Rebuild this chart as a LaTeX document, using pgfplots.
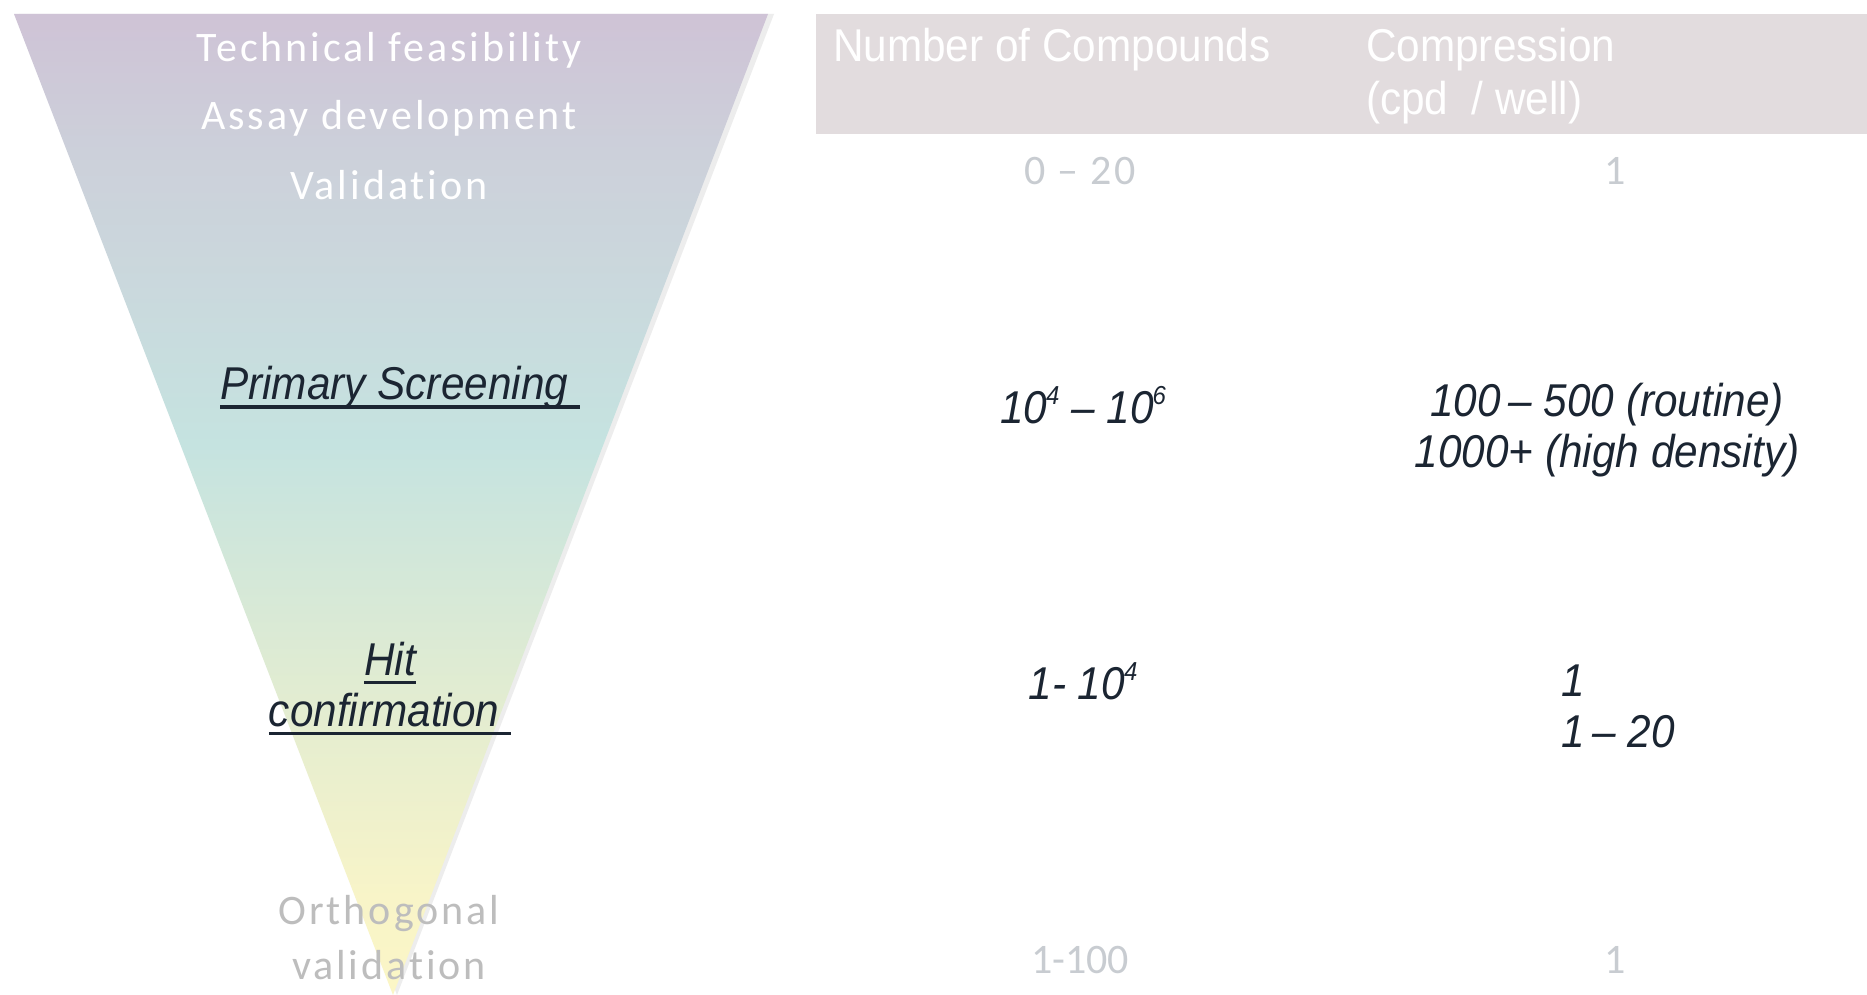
\documentclass[border=0pt]{standalone}
\usepackage{pgfplots}
\pgfplotsset{compat=1.18}
\usepackage{fontspec}
\setmainfont{Liberation Sans}
\newfontfamily\funnelfont[LetterSpace=7, Ligatures={NoCommon, TeX}]{Carlito}
\newfontfamily\plainfont[Ligatures={NoCommon, TeX}]{Carlito}
\newfontfamily\arialfont[Ligatures=TeX]{Liberation Sans}
\newfontfamily\narrowfont[Ligatures=TeX, FakeStretch=0.92]{Liberation Sans}

\definecolor{headbg}{HTML}{E2DCDE}
\definecolor{darktxt}{HTML}{1B2532}
\definecolor{lighttxt}{HTML}{C8CCD1}
\definecolor{greytxt}{HTML}{BDBDBD}
\definecolor{shadowc}{HTML}{EDEDED}

\definecolor{fa}{HTML}{FBF6C6}
\definecolor{fb}{HTML}{F8F4C8}
\definecolor{fc}{HTML}{DEEBD3}
\definecolor{fd}{HTML}{C5E3E0}
\definecolor{fe}{HTML}{CBD6DC}
\definecolor{ff}{HTML}{CCD0DA}
\definecolor{fg}{HTML}{CFC3D6}

% vertical shading of the funnel, 25bp = apex, 75bp = top
\pgfdeclareverticalshading{funnel}{100bp}{%
  color(0bp)=(fa);
  color(25bp)=(fa);
  color(30bp)=(fb);
  color(42bp)=(fc);
  color(53bp)=(fd);
  color(63bp)=(fe);
  color(68bp)=(ff);
  color(75bp)=(fg);
  color(100bp)=(fg)}

% underline including a trailing space
\newcommand\ul[1]{\setbox0\hbox{#1}\leavevmode\rlap{\rule[-4.5pt]{\wd0}{1.7pt}}\box0}
% small, tight superscript as in the slide
\newcommand\smallsup[1]{\kern-0.5pt\raisebox{0.42em}{\fontsize{13}{13}\selectfont #1}}

\begin{document}
\begin{tikzpicture}
\begin{axis}[
  x=0.5pt, y=0.5pt,
  xmin=0, xmax=1867, ymin=0, ymax=995,
  hide axis, clip=false]

% page background
\addplot[fill=white, draw=none] coordinates {(0,0) (1867,0) (1867,995) (0,995)} -- cycle;

% funnel shadow and funnel
\addplot[fill=shadowc, draw=none] coordinates {(19,981) (774,981) (397,0)} -- cycle;
\addplot[shade, shading=funnel, draw=none] coordinates {(14,981) (768,981) (393,0)} -- cycle;

% header band
\addplot[fill=headbg, draw=none] coordinates {(816,981) (1867,981) (1867,861) (816,861)} -- cycle;

% funnel labels
\node[text=white, font=\funnelfont\fontsize{21}{24}\selectfont] at (389,945) {Technical feasibility};
\node[text=white, font=\funnelfont\fontsize{21}{24}\selectfont] at (389,877) {Assay development};
\node[text=white, font=\funnelfont\fontsize{21}{24}\selectfont] at (389,810) {Validation};

\node[text=darktxt, font=\narrowfont\itshape\fontsize{23}{26}\selectfont] at (400,607) {\ul{Primary Screening\ }};
\node[text=darktxt, font=\narrowfont\itshape\fontsize{23}{26}\selectfont] at (390,332) {\ul{Hit}};
\node[text=darktxt, font=\narrowfont\itshape\fontsize{23}{26}\selectfont] at (390,281) {\ul{confirmation\ }};

\node[text=greytxt, font=\funnelfont\fontsize{21}{24}\selectfont] at (389,81) {Orthogonal};
\node[text=greytxt, font=\funnelfont\fontsize{21}{24}\selectfont] at (389,30) {validation};

% header text
\node[anchor=west, text=white, font=\narrowfont\fontsize{23}{26}\selectfont] at (826,945) {Number of Compounds};
\node[anchor=west, text=white, font=\narrowfont\fontsize{23}{26}\selectfont] at (1359,945) {Compression};
\node[anchor=west, text=white, font=\narrowfont\fontsize{23}{26}\selectfont] at (1359,892) {(cpd\ \ / well)};

% row 1
\node[text=lighttxt, font=\plainfont\addfontfeature{LetterSpace=6}\fontsize{21}{24}\selectfont] at (1080,824) {0 – 20};
\node[text=lighttxt, font=\plainfont\fontsize{21}{24}\selectfont] at (1615,824) {1};

% row 2
\node[text=darktxt, font=\narrowfont\itshape\fontsize{23}{26}\selectfont] at (1083,590) {10\smallsup{4} – 10\smallsup{6}};
\node[text=darktxt, font=\narrowfont\itshape\fontsize{23}{26}\selectfont] at (1607,590) {100\,– 500 (routine)};
\node[text=darktxt, font=\narrowfont\itshape\fontsize{23}{26}\selectfont] at (1607,539) {1000+ (high density)};

% row 3
\node[text=darktxt, font=\narrowfont\itshape\fontsize{23}{26}\selectfont] at (1083,314) {1- 10\smallsup{4}};
\node[anchor=west, text=darktxt, font=\narrowfont\itshape\fontsize{23}{26}\selectfont] at (1554,314) {1};
\node[anchor=west, text=darktxt, font=\narrowfont\itshape\fontsize{23}{26}\selectfont] at (1554,263) {1\,– 20};

% row 4
\node[text=lighttxt, font=\plainfont\fontsize{21}{24}\selectfont] at (1080,35) {1-100};
\node[text=lighttxt, font=\plainfont\fontsize{21}{24}\selectfont] at (1615,35) {1};

\end{axis}
\end{tikzpicture}
\end{document}
